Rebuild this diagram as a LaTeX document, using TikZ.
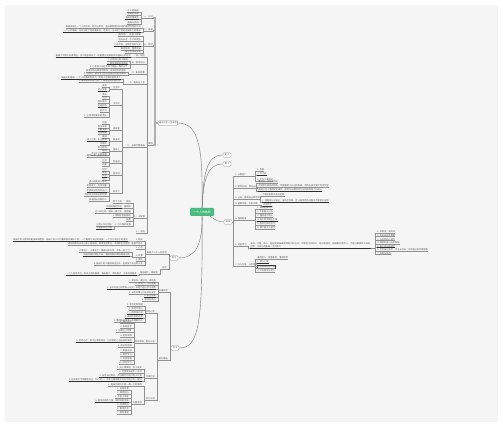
\documentclass[tikz,border=0pt]{standalone}
\usepackage{fontspec}
\newfontfamily\cjk{Noto Sans CJK SC}
\XeTeXlinebreaklocale "zh"
\XeTeXlinebreakskip=0pt plus 1pt
\usetikzlibrary{positioning}
\definecolor{rootc}{RGB}{76,186,128}
\definecolor{paperc}{RGB}{245,245,245}
\definecolor{linec}{RGB}{145,145,145}
\definecolor{trunkc}{RGB}{175,175,175}
\definecolor{inkc}{RGB}{85,85,85}
\definecolor{hlc}{RGB}{45,45,45}
\newcommand{\tinyf}{\cjk\fontsize{2.2}{2.7}\selectfont}
\tikzset{
  root/.style={rectangle, rounded corners=1pt, fill=rootc, text=white,
               font=\cjk\fontsize{2.9}{3.4}\selectfont,
               minimum width=24pt, minimum height=8pt, inner sep=1pt},
  topic/.style={rectangle, rounded corners=0.8pt, draw=linec, fill=white,
                line width=0.3pt, font=\tinyf, text=inkc, inner sep=0.8pt,
                minimum width=8pt, minimum height=4.5pt},
  uline/.style={draw=linec, line width=0.3pt},
  hline/.style={draw=hlc, line width=0.7pt},
  leaf/.style={font=\tinyf, text=inkc, inner sep=0.3pt, outer sep=0pt,
               append after command={(\tikzlastnode.south west) edge[uline] (\tikzlastnode.south east)}},
  leafl/.style={leaf, anchor=south east},
  leafr/.style={leaf, anchor=south west},
  nl/.style={},
  hl/.style={append after command={(\tikzlastnode.south west) edge[hline] (\tikzlastnode.south east)}},
  sel/.style={draw=hlc, line width=0.5pt},
  link/.style={draw=linec, line width=0.3pt},
  trunk/.style={draw=trunkc, line width=1.1pt},
  curve/.style={draw=linec!80!black, line width=0.4pt},
}
% children hung on the left / right of a parent, list of y/text/style
\newcommand{\kidsl}[5][link]{%
  \foreach \ky/\kt/\ks [count=\ki] in {#5} {
    \node[leafl, \ks] (#4\ki) at (#3,\ky) {\kt};
    \draw[#1] (#2) -| ([xshift=2pt]#4\ki.south east) -- (#4\ki.south east);
  }}
\newcommand{\kidsr}[5][link]{%
  \foreach \ky/\kt/\ks [count=\ki] in {#5} {
    \node[leafr, \ks] (#4\ki) at (#3,\ky) {\kt};
    \draw[#1] (#2) -| ([xshift=-2pt]#4\ki.south west) -- (#4\ki.south west);
  }}

\begin{document}
\begin{tikzpicture}[x=1pt, y=-1pt]
  \useasboundingbox[fill=white] (0,0) rectangle (503,446);
  \fill[paperc] (5,5) rectangle (498,422);
  \coordinate (hub) at (202,212);

  % right side
  \node[topic] (def) at (227,155) {定义};
  \node[topic] (mean) at (227,164) {意义};
  \node[topic] (show) at (228,222) {表现};
  \kidsr{show.east}{235}{r}{176/{1. 心胸宽广}/nl, 188/{2. 眼界开阔、目光长远}/nl,
    199/{3. 认知：看清自己和世界}/nl, 205/{4. 遇事冷静，不急不躁}/nl,
    220/{5. 懂得取舍}/nl, 246/{6. 终身学习}/nl, 266/{7. 与人为善，心存感恩}/nl}
  \kidsr{r1.south east}{257}{ra}{171/{1. 包容}/nl, 175/{2. 不计较}/hl, 181/{3. 不为小事困扰}/nl}
  \kidsr{r2.south east}{258}{rb}{183/{看得远，才能走得远}/nl,
    187/{不局限于眼前的得失，而是着眼于长远的发展，把目光放在更大的世界里}/nl,
    191/{格局大的人懂得延迟满足，愿意为长期目标付出持续的努力与耐心}/hl}
  \kidsr{r3.south east}{262}{rc}{196/{了解自身的长处与短板}/nl,
    202/{1. 清醒地认识自己，接纳不完美，在认知世界的过程中不断修正自我}/hl}
  \kidsr{r4.south east}{263}{rd}{206/{不慌不忙}/hl}
  \kidsr{r5.south east}{257}{re}{209/{1. 拿得起放得下}/nl, 213/{2. 不执着于过去}/nl,
    217/{3. 懂得适可而止}/nl, 221/{4. 舍小利而顾全大局}/hl, 225/{5. 有所为有所不为}/nl,
    229/{6. 放下面子与执念}/nl}
  \node[leafr, hl, text width=120pt, align=left] (r6k) at (250,248)
    {读书、行路、阅人，是拓宽格局最有效的三种方式；不断学习新知识，走出舒适区，接触更优秀的人，才能打破固有认知的边界，让自己的格局一点点变大};
  \draw[link] (r6.south east) -| ([xshift=-2pt]r6k.south west) -- (r6k.south west);
  \kidsr{r6k.south east}{377}{rf}{233/{1. 多读书，读好书}/nl, 236.5/{2. 多出去走走看看}/nl,
    240.5/{3. 与优秀的人同行}/nl, 244/{4. 保持好奇心与求知欲}/nl, 247.5/{5. 勇于走出舒适区}/hl,
    251/{6. 学会独立思考，不人云亦云，形成自己的判断体系}/nl, 254.5/{7. 反思与复盘}/nl}
  \kidsr{r7.south east}{257}{rg}{259/{善待他人、尊重差异、懂得欣赏}/nl, 263/{1. 成人之美}/hl,
    268/{2. 感恩身边的一切}/sel, 272/{3. 不在背后议论人}/nl}

  % left side, upper
  \node[topic] (gist) at (168,123) {格局决定人生高度};
  \kidsl[trunk]{gist.west}{153}{a}{18/{一、认识}/nl, 31/{二、来源}/nl, 46/{三、特点}/nl, 145/{案例}/nl}
  \kidsl{a1.south west}{139}{aa}{12/{什么是格局}/nl, 15/{格局的由来}/nl, 19/{格局的重要性}/hl, 24/{格局与命运}/nl}
  \kidsl{a2.south west}{141}{ab}{28/{格局来源于一个人的见识、经历与思考，是长期积累后形成的看待世界的方式}/nl,
    32/{一个人的格局，往往决定了他能看多远、走多远，也决定了他能成就多大的事业}/hl}
  \kidsl{a3.south west}{141}{ac}{36/{胸怀宽广，能容人容事}/nl, 41/{目光长远，不计较得失}/nl,
    46/{心态平和，宠辱不惊的气度}/hl, 50/{谦逊低调，懂得自省}/nl, 53/{善于合作与分享}/nl}
  \kidsl{a4.south west}{145}{k}{57/{四、误区}/nl, 64/{五、层次划分}/nl, 74/{六、影响因素}/nl,
    84/{七、格局与人生}/nl, 147/{八、从细节看格局}/nl, 218/{九、小故事}/nl, 233/{十、总结}/nl}
  \kidsl{k1.south west}{131}{ka}{57/{格局大不等于好高骛远，也不是盲目自大，而是建立在脚踏实地基础上的远见}/hl}
  \kidsl{k2.south west}{128}{kb}{61/{1. 只顾自己的小格局}/nl, 64.5/{2. 顾及家庭的中格局}/hl,
    68/{3. 心系他人与社会的大格局，胸怀天下}/nl}
  \kidsl{k3.south west}{126}{kc}{72/{家庭环境与教育的影响，成长经历的塑造}/nl,
    75/{个人阅历、读书学习与交往圈子的层次高低}/nl}
  \kidsl{k4.south west}{121}{kd}{79/{格局决定结局，一个人的格局有多大，他的人生舞台就有多大}/hl,
    82.5/{小格局看到的是问题，大格局看到的是机会}/nl}
  \kidsl{k5.south west}{120}{m}{89/{生活中}/nl, 105/{工作中}/nl, 130/{家庭里}/nl, 141/{朋友间}/nl,
    151/{金钱上}/nl, 163/{利益前}/nl, 175/{挫折时}/nl, 193/{批评下}/nl}
  \kidsl{m1.south west}{107}{ma}{87/{细节}/nl, 91/{待人接物}/hl}
  \kidsl{m2.south west}{107}{mb}{96/{责任}/nl, 99/{担当}/nl, 103/{团队意识}/nl, 107/{全局观念}/hl,
    112/{执行力}/nl, 117/{1. 主动承担更多的责任}/nl}
  \kidsl{m3.south west}{107}{mc}{124/{包容}/nl, 128/{换位思考}/nl, 131/{不翻旧账}/hl, 134/{互相理解}/nl}
  \kidsl{m4.south west}{107}{md}{138/{真诚}/nl, 141/{成人之美，乐见其成}/hl, 145/{不嫉妒}/nl}
  \kidsl{m5.south west}{107}{me}{149/{取之有道}/nl, 152/{舍得}/nl, 155/{不斤斤计较得失}/nl}
  \kidsl{m6.south west}{107}{mf}{157/{懂得分享，互利共赢}/nl, 162/{让利}/nl, 166/{共赢}/nl}
  \kidsl{m7.south west}{107}{mg}{171/{坦然}/nl, 174/{接受}/nl, 177/{反思}/hl, 180/{前行}/nl}
  \kidsl{m8.south west}{107}{mh}{183/{虚心接受他人意见}/nl, 187/{有则改之，无则加勉}/nl,
    192/{不因批评而否定自己}/hl, 196/{把批评当作成长的阶梯}/nl, 201/{感谢指出问题的人}/nl}
  \kidsl{k6.south west}{131}{n}{203/{韩信}/nl, 208/{蔺相如}/nl, 213/{曾国藩}/nl,
    217/{1. 宰相肚里能撑船}/nl, 221/{张英}/nl, 226/{2. 六尺巷的故事}/nl}
  \kidsl{n1.south west}{122}{na}{203/{胯下之辱}/nl}
  \kidsl{n2.south west}{122}{nb}{208/{负荆请罪的佳话}/hl}
  \kidsl{n3.south west}{122}{nc}{213/{忍一时之辱，成就一番大业}/nl}
  \kidsl{n6.south west}{112}{nd}{226/{让他三尺又何妨}/nl, 229/{千里家书只为墙}/hl}

  % left side, middle
  \node[topic] (lesson) at (174,258) {启示};
  \kidsl{lesson.west}{167}{b}{254/{格局大小之人的区别}/nl, 269/{结论}/nl}
  \kidsl{b1.south west}{143}{p}{241/{1. 眼光}/nl, 245/{格局大的人}/nl, 249/{2. 心态}/nl,
    257/{3. 处事}/nl, 261/{4. 得失}/nl, 265/{5. 格局大的人懂得成全别人，也成就了自己的人生}/nl}
  \kidsl{p1.south west}{128}{pa}{241/{格局大的人看到的是未来和趋势，格局小的人只盯着眼前的蝇头小利；一个着眼于长远的发展，一个只计较当下的得失}/hl}
  \kidsl{p2.south west}{130}{pb}{245/{遇到问题先从自己身上找原因，愿意承担责任，不推卸也不抱怨}/nl}
  \kidsl{p4.south west}{130}{pd}{252/{大事化小，小事化了，懂得以和为贵，不争一时之气}/nl,
    256/{处理问题时顾全大局，懂得权衡利弊后再做决定}/hl}
  \kidsl{b2.south west}{158}{s}{274/{格局越大，路越宽}/nl}
  \kidsl{s1.south west}{137}{sa}{275/{一个人能走多远，取决于他的格局；格局越大，舞台越大，机会也就越多}/hl}

  % left side, lower
  \node[topic] (way) at (175,348) {方法};
  \kidsl{way.west}{168}{c}{292/{开阔眼界}/nl, 360/{提升格局}/nl}
  \kidsl{c1.south west}{156}{ca}{282/{1. 多读书、读好书、读经典}/nl, 285/{2. 多旅行，行万里路}/nl,
    289/{3. 多与比自己优秀的人交流，向他们虚心学习请教}/hl, 294/{4. 关注时事与行业动态变化}/nl,
    297/{5. 多见世面}/hl, 301/{6. 保持好奇心}/nl}
  \kidsl{c2.south west}{155}{d}{313/{修炼心性}/nl, 343/{改变思维、提升认知}/nl, 378/{付诸行动}/nl, 400/{持之以恒}/nl}
  \kidsl{d1.south west}{143}{da}{306/{1. 学会控制情绪}/nl, 310/{2. 保持平常心}/nl,
    314/{3. 少抱怨多行动}/hl, 318/{4. 接纳不同的声音}/hl, 322/{5. 懂得换位思考，多理解别人}/nl}
  \kidsl{d2.south west}{132}{db}{323/{1. 独立思考}/nl, 328/{2. 系统思考}/nl, 332/{3. 长期主义思维}/nl,
    337/{4. 逆向思维}/nl, 342/{5. 空杯心态：放下已有的成见，以开放的心态接纳新事物}/hl,
    347/{6. 成长型思维}/nl, 352/{7. 复盘总结}/nl, 356/{8. 跨界学习}/nl, 360/{9. 利他思维}/nl,
    364/{10. 终身学习}/nl}
  \kidsl{d3.south west}{142}{dc}{369/{1. 从小事做起，积少成多}/nl, 373/{2. 坚持每天进步一点点}/nl,
    377/{3. 设定长远目标，并分解为可执行的小计划}/hl,
    381/{4. 在实践中不断磨炼自己，知行合一，才能让格局真正内化为自己的一部分}/hl}
  \kidsl{d4.south west}{142}{dd}{386/{1. 格局的提升不是一朝一夕的事情}/nl, 404/{长期坚持}/nl}
  \kidsl{dd2.south west}{129}{de}{390/{1. 日积月累}/nl, 394/{2. 保持耐心}/nl, 398/{3. 不急于求成}/nl,
    402/{4. 相信时间的力量，做时间的朋友}/hl, 406/{5. 持续精进}/nl, 410/{6. 静待花开}/nl,
    414/{7. 厚积薄发}/nl}

  % curved branches from the centre
  \draw[curve] (hub) .. controls (203,150) and (200,123) .. (gist.east);
  \draw[curve] (hub) .. controls (203,172) and (207,155) .. (def.west);
  \draw[curve] (hub) .. controls (203,180) and (207,164) .. (mean.west);
  \draw[curve] (hub) .. controls (210,214) and (214,222) .. (show.west);
  \draw[curve] (hub) .. controls (203,245) and (196,258) .. (lesson.east);
  \draw[curve] (hub) .. controls (203,325) and (199,348) .. (way.east);
  \node[root] (root) at (hub) {一个人的格局};
\end{tikzpicture}
\end{document}
